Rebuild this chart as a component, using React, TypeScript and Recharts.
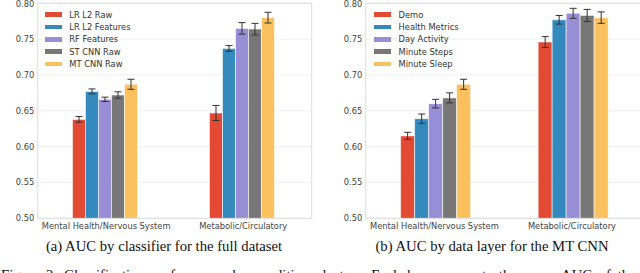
import React from "react";
import {
  BarChart,
  Bar,
  XAxis,
  YAxis,
  CartesianGrid,
  ErrorBar,
  Legend,
  ReferenceArea,
} from "recharts";

const categories = ["Mental Health/Nervous System", "Metabolic/Circulatory"];
const yTicks = [0.5, 0.55, 0.6, 0.65, 0.7, 0.75, 0.8];
const colors = ["#E24A33", "#348ABD", "#988ED5", "#777777", "#FBC15E"];

// (a) classifiers
const classifierNames = ["LR L2 Raw", "LR L2 Features", "RF Features", "ST CNN Raw", "MT CNN Raw"];
const classifierAuc = [
  [0.638, 0.647],
  [0.677, 0.737],
  [0.666, 0.765],
  [0.672, 0.764],
  [0.687, 0.78],
];
const classifierErr = [
  [0.004, 0.0105],
  [0.0035, 0.004],
  [0.003, 0.008],
  [0.0045, 0.008],
  [0.007, 0.0075],
];

// (b) data layers
const layerNames = ["Demo", "Health Metrics", "Day Activity", "Minute Steps", "Minute Sleep"];
const layerAuc = [
  [0.615, 0.746],
  [0.639, 0.777],
  [0.66, 0.786],
  [0.668, 0.783],
  [0.687, 0.78],
];
const layerErr = [
  [0.005, 0.0075],
  [0.0065, 0.006],
  [0.006, 0.007],
  [0.007, 0.0085],
  [0.007, 0.008],
];

const font = "'DejaVu Sans', sans-serif";
const serif = "'Liberation Serif', 'Times New Roman', serif";

function buildRows(values: number[][], errs: number[][]) {
  return categories.map((c, ci) => {
    const row: Record<string, any> = { category: c };
    values.forEach((v, si) => {
      row["s" + si] = v[ci];
      row["e" + si] = errs[si][ci];
    });
    return row;
  });
}

function LegendBox({ names }: { names: string[] }) {
  return (
    <div style={{ fontFamily: font, fontSize: 8.3, color: "#333" }}>
      {names.map((n, i) => (
        <div key={n} style={{ display: "flex", alignItems: "center", height: 12.33 }}>
          <div style={{ width: 16.7, height: 4.7, background: colors[i], marginRight: 7.6 }} />
          <span style={{ whiteSpace: "nowrap" }}>{n}</span>
        </div>
      ))}
    </div>
  );
}

function Panel({
  names,
  values,
  errs,
  left,
  rightMargin,
  legendLeft,
}: {
  names: string[];
  values: number[][];
  errs: number[][];
  left: number;
  rightMargin: number;
  legendLeft: number;
}) {
  const rows = buildRows(values, errs);
  return (
    <div style={{ position: "absolute", left, top: 0 }}>
      <BarChart
        width={320}
        height={240}
        data={rows}
        margin={{ top: 3.3, right: rightMargin, bottom: 0, left: 0 }}
        barCategoryGap="25.4%"
        barGap={0}
      >
        <CartesianGrid vertical={false} stroke="#efefef" />
        <ReferenceArea y1={0.5} y2={0.8} fill="none" stroke="#dddddd" strokeWidth={1} />
        <XAxis
          dataKey="category"
          axisLine={false}
          tickLine={false}
          tickSize={0}
          tickMargin={4.5}
          height={21.7}
          interval={0}
          tick={{ fontSize: 8.3, fill: "#444", fontFamily: font }}
        />
        <YAxis
          domain={[0.5, 0.8]}
          ticks={yTicks}
          allowDataOverflow
          axisLine={false}
          tickLine={false}
          tickSize={0}
          tickMargin={3.4}
          width={37.7}
          tickFormatter={(v: number) => v.toFixed(2)}
          tick={{ fontSize: 8.3, fill: "#444", fontFamily: font }}
        />
        <Legend
          layout="vertical"
          align="center"
          verticalAlign="middle"
          content={() => <LegendBox names={names} />}
          wrapperStyle={{ left: legendLeft, top: 8.5, width: "auto" }}
        />
        {names.map((n, i) => (
          <Bar
            key={n}
            dataKey={"s" + i}
            name={n}
            fill={colors[i]}
            stroke="rgba(255,255,255,0.7)"
            strokeWidth={0.8}
            isAnimationActive={false}
          >
            <ErrorBar dataKey={"e" + i} width={3.5} stroke="#333" strokeWidth={1} direction="y" />
          </Bar>
        ))}
      </BarChart>
    </div>
  );
}

const captionStyle: React.CSSProperties = {
  position: "absolute",
  width: 300,
  top: 238,
  textAlign: "center",
  fontFamily: serif,
  fontSize: 14.7,
  lineHeight: "17px",
  color: "#111",
  whiteSpace: "nowrap",
};

export default function App() {
  return (
    <div
      style={{
        position: "absolute",
        left: 0,
        top: 0,
        width: 640,
        height: 273,
        overflow: "hidden",
        background: "#fff",
      }}
    >
      <Panel
        names={classifierNames}
        values={classifierAuc}
        errs={classifierErr}
        left={0}
        rightMargin={8.3}
        legendLeft={45}
      />
      <Panel
        names={layerNames}
        values={layerAuc}
        errs={layerErr}
        left={328}
        rightMargin={7.25}
        legendLeft={46.3}
      />
      <div style={{ ...captionStyle, left: 14 }}>(a) AUC by classifier for the full dataset</div>
      <div style={{ ...captionStyle, left: 342 }}>(b) AUC by data layer for the MT CNN</div>
      <div
        style={{
          position: "absolute",
          left: 1,
          top: 267,
          fontFamily: serif,
          fontSize: 14.7,
          lineHeight: "17px",
          color: "#111",
          whiteSpace: "nowrap",
          wordSpacing: 3,
        }}
      >
        Figure 2: Classification performance by condition clusters. Each bar represents the mean AUC of the
      </div>
    </div>
  );
}
